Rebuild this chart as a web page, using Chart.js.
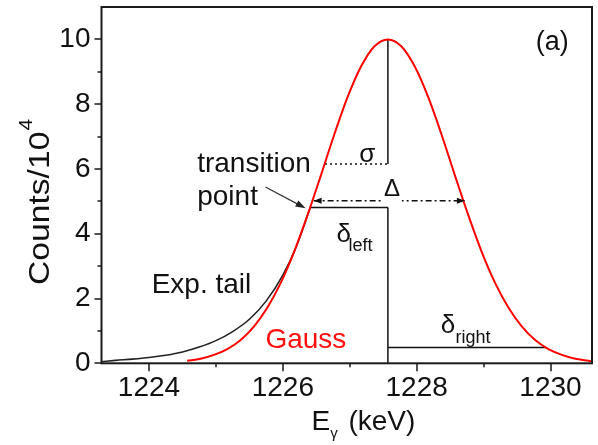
<!DOCTYPE html>
<html>
<head>
<meta charset="utf-8">
<script src="https://cdn.jsdelivr.net/npm/chart.js@4.4.0/dist/chart.umd.min.js"></script>
<style>
  body { margin: 0; background: #fff; }
  #wrap { width: 598px; height: 445px; }
</style>
</head>
<body>
<div id="wrap"><canvas id="chart" width="598" height="445"></canvas></div>
<script>
// Gaussian part of the peak (red)
const gaussE = [1224.57, 1224.77, 1224.97, 1225.17, 1225.37, 1225.57, 1225.77, 1225.97, 1226.17, 1226.37,
                1226.57, 1226.77, 1226.97, 1227.17, 1227.37, 1227.57, 1227.77, 1227.97, 1228.17, 1228.37,
                1228.57, 1228.77, 1228.97, 1229.17, 1229.37, 1229.57, 1229.77, 1229.97, 1230.17, 1230.37,
                1230.57, 1230.62];
const gaussCounts = [0.08, 0.14, 0.26, 0.44, 0.72, 1.14, 1.72, 2.49, 3.45, 4.58,
                     5.81, 7.07, 8.23, 9.17, 9.79, 10.0, 9.79, 9.17, 8.23, 7.07,
                     5.81, 4.58, 3.45, 2.49, 1.72, 1.14, 0.72, 0.44, 0.26, 0.14,
                     0.08, 0.06];

// exponential low-energy tail (black)
const tailE = [1223.29, 1223.5, 1223.75, 1224.0, 1224.25, 1224.5, 1224.75, 1225.0, 1225.25, 1225.5,
               1225.75, 1226.0, 1226.2, 1226.41];
const tailCounts = [0.05, 0.09, 0.13, 0.18, 0.25, 0.35, 0.50, 0.70, 0.98, 1.36,
                    1.92, 2.72, 3.6, 4.81];

// marked quantities
const peakE = 1227.57, peakCounts = 10;
const sigmaE = 1226.63, sigmaCounts = 6.15;
const halfLeftE = 1226.46, halfRightE = 1228.72, halfCounts = 5.02;
const transE = 1226.41, transCounts = 4.81;
const rightEndE = 1229.94, rightCounts = 0.49;

// axes
const xMin = 1223.29, xMax = 1230.62;
const yMin = 0, yMax = 11;
const xTicks = [1224, 1226, 1228, 1230];
const yTicks = [0, 2, 4, 6, 8, 10];

const FONT = "'Liberation Sans', Arial, sans-serif";

function pts(xs, ys) {
    return xs.map((x, i) => ({x: x, y: ys[i]}));
}

function segment(data, dash) {
    return {
        data: data,
        borderColor: '#111',
        borderWidth: 1.5,
        borderDash: dash || [],
        pointRadius: 0,
        fill: false,
        order: 2
    };
}

function arrowHead(ctx, x0, y0, x1, y1, len, half) {
    const ang = Math.atan2(y1 - y0, x1 - x0);
    ctx.beginPath();
    ctx.moveTo(x1, y1);
    ctx.lineTo(x1 - len * Math.cos(ang) + half * Math.sin(ang), y1 - len * Math.sin(ang) - half * Math.cos(ang));
    ctx.lineTo(x1 - len * Math.cos(ang) - half * Math.sin(ang), y1 - len * Math.sin(ang) + half * Math.cos(ang));
    ctx.closePath();
    ctx.fill();
}

// frame, major/minor ticks, labels and arrows
const extras = {
    id: 'extras',
    afterDatasetsDraw(chart) {
        const {ctx, chartArea: a, scales: {x, y}} = chart;
        ctx.save();

        ctx.strokeStyle = '#1a1a1a';
        ctx.lineWidth = 2;
        ctx.strokeRect(a.left, a.top, a.right - a.left, a.bottom - a.top);

        ctx.lineWidth = 1.5;
        ctx.beginPath();
        y.ticks.forEach(t => {
            if (t.value > 10) return;
            const py = Math.round(y.getPixelForValue(t.value));
            const len = yTicks.includes(t.value) ? 7 : 4;
            ctx.moveTo(a.left - len, py);
            ctx.lineTo(a.left, py);
        });
        x.ticks.forEach(t => {
            const px = Math.round(x.getPixelForValue(t.value));
            const len = xTicks.includes(t.value) ? 8 : 4;
            ctx.moveTo(px, a.bottom);
            ctx.lineTo(px, a.bottom + len);
        });
        ctx.stroke();

        // arrowheads of the FWHM line
        ctx.fillStyle = '#111';
        const hy = y.getPixelForValue(halfCounts);
        const hl = x.getPixelForValue(halfLeftE), hr = x.getPixelForValue(halfRightE);
        arrowHead(ctx, hl + 10, hy, hl, hy, 8, 3);
        arrowHead(ctx, hr - 10, hy, hr, hy, 8, 3);

        // arrow to the transition point
        const ax0 = x.getPixelForValue(1225.74), ay0 = y.getPixelForValue(5.44);
        const ax1 = x.getPixelForValue(1226.34), ay1 = y.getPixelForValue(4.79);
        ctx.strokeStyle = '#333';
        ctx.lineWidth = 1.2;
        ctx.beginPath();
        ctx.moveTo(ax0, ay0);
        ctx.lineTo(ax1 - 6, ay1 - 3);
        ctx.stroke();
        ctx.fillStyle = '#222';
        arrowHead(ctx, ax0, ay0, ax1, ay1, 10, 3.5);

        // white patch behind the Delta label
        const dx = x.getPixelForValue(1227.63), dy = y.getPixelForValue(5.17);
        ctx.fillStyle = '#fff';
        ctx.fillRect(dx - 10, dy - 20, 20, 27);

        function text(str, xv, yv, size, color, align) {
            ctx.font = size + 'px ' + FONT;
            ctx.fillStyle = color || '#111';
            ctx.textAlign = align || 'left';
            ctx.textBaseline = 'alphabetic';
            ctx.fillText(str, x.getPixelForValue(xv), y.getPixelForValue(yv));
        }

        text('transition', 1224.72, 5.91, 28);
        text('point', 1224.72, 4.89, 28);
        text('Exp. tail', 1224.04, 2.18, 28);
        text('Gauss', 1225.74, 0.46, 28, '#ff1010');
        text('(a)', 1229.78, 9.67, 27);
        text('\u03c3', 1227.26, 6.21, 26, '#111', 'center');
        text('\u0394', 1227.63, 5.17, 24, '#111', 'center');
        text('\u03b4', 1226.80, 3.75, 26);
        text('left', 1226.98, 3.48, 18);
        text('\u03b4', 1228.36, 0.94, 26);
        text('right', 1228.58, 0.62, 18);

        // x axis title with subscript
        ctx.fillStyle = '#111';
        ctx.textAlign = 'left';
        ctx.textBaseline = 'alphabetic';
        let tx = a.left + 210;
        const ty = 430;
        ctx.font = '28px ' + FONT;
        ctx.fillText('E', tx, ty);
        tx += ctx.measureText('E').width;
        ctx.font = '15px ' + FONT;
        ctx.fillText('\u03b3', tx, ty + 8);
        tx += ctx.measureText('\u03b3').width + 3;
        ctx.font = '28px ' + FONT;
        ctx.fillText(' (keV)', tx, ty);

        // y axis title with superscript (set wide, as in the original)
        ctx.translate(49, 285);
        ctx.rotate(-Math.PI / 2);
        ctx.scale(1.16, 1);
        ctx.font = '29px ' + FONT;
        ctx.fillText('Counts/10', 0, 0);
        const w = ctx.measureText('Counts/10').width;
        ctx.font = '18px ' + FONT;
        ctx.fillText('4', w + 1, -17);

        ctx.restore();
    }
};

new Chart(document.getElementById('chart'), {
    type: 'line',
    data: {
        datasets: [
            {
                data: pts(gaussE, gaussCounts),
                borderColor: '#ff0000',
                borderWidth: 2,
                pointRadius: 0,
                cubicInterpolationMode: 'monotone',
                fill: false,
                order: 0
            },
            {
                data: pts(tailE, tailCounts),
                borderColor: '#222',
                borderWidth: 1.6,
                pointRadius: 0,
                cubicInterpolationMode: 'monotone',
                fill: false,
                order: 1
            },
            segment([{x: peakE, y: peakCounts}, {x: peakE, y: sigmaCounts}]),
            segment([{x: peakE, y: transCounts}, {x: peakE, y: 0}]),
            segment([{x: sigmaE, y: sigmaCounts}, {x: peakE, y: sigmaCounts}], [2, 3]),
            segment([{x: halfLeftE, y: halfCounts}, {x: halfRightE, y: halfCounts}], [6, 3, 2, 3]),
            segment([{x: transE, y: transCounts}, {x: peakE, y: transCounts}]),
            segment([{x: peakE, y: rightCounts}, {x: rightEndE, y: rightCounts}])
        ]
    },
    options: {
        responsive: false,
        animation: false,
        devicePixelRatio: 1,
        layout: {padding: {left: 0, top: 7, right: 6, bottom: 0}},
        plugins: {legend: {display: false}, tooltip: {enabled: false}},
        scales: {
            x: {
                type: 'linear',
                min: xMin,
                max: xMax,
                grid: {display: false, drawTicks: false},
                border: {display: false},
                afterFit: scale => {
                    scale.height = 81.7;
                    scale.paddingLeft = 0;
                    scale.paddingRight = 0;
                },
                ticks: {
                    stepSize: 1,
                    includeBounds: false,
                    padding: 8,
                    color: '#111',
                    font: {family: FONT, size: 28},
                    maxRotation: 0,
                    autoSkip: false,
                    callback: v => xTicks.includes(v) ? String(v) : ''
                }
            },
            y: {
                type: 'linear',
                min: yMin,
                max: yMax,
                grid: {display: false, drawTicks: false},
                border: {display: false},
                afterFit: scale => {
                    scale.width = 101.5;
                    scale.paddingTop = 0;
                    scale.paddingBottom = 0;
                },
                ticks: {
                    stepSize: 1,
                    padding: 11,
                    color: '#111',
                    font: {family: FONT, size: 28},
                    autoSkip: false,
                    callback: v => yTicks.includes(v) ? String(v) : ''
                }
            }
        }
    },
    plugins: [extras]
});
</script>
</body>
</html>
